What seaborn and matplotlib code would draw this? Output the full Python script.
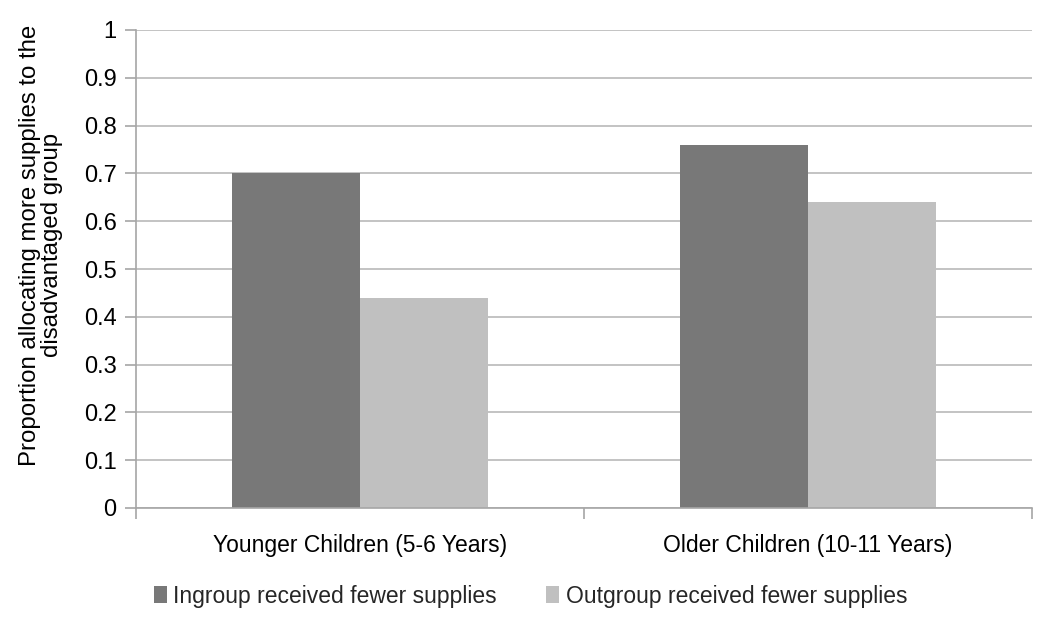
import matplotlib
matplotlib.use("Agg")
import matplotlib.pyplot as plt
import seaborn as sns
import pandas as pd
from matplotlib.ticker import FixedLocator

categories = ["Younger Children (5-6 Years)", "Older Children (10-11 Years)"]
series_names = ["Ingroup received fewer supplies", "Outgroup received fewer supplies"]
ingroup_values = [0.70, 0.76]
outgroup_values = [0.44, 0.64]
y_ticks = [0, 0.1, 0.2, 0.3, 0.4, 0.5, 0.6, 0.7, 0.8, 0.9, 1]
y_tick_labels = ["0", "0.1", "0.2", "0.3", "0.4", "0.5", "0.6", "0.7", "0.8", "0.9", "1"]

df = pd.DataFrame({
    "category": categories * 2,
    "series": [series_names[0]] * 2 + [series_names[1]] * 2,
    "value": ingroup_values + outgroup_values,
})

sns.set_theme(style="white")
plt.rcParams["font.family"] = ["Liberation Sans", "DejaVu Sans"]

FS = 16.5
fig = plt.figure(figsize=(10.5, 6.22), dpi=100)
ax = fig.add_axes([136 / 1050, 1 - 508 / 622, (1032 - 136) / 1050, (508 - 30) / 622])

palette = {series_names[0]: "#787878", series_names[1]: "#C0C0C0"}
sns.barplot(data=df, x="category", y="value", hue="series", order=categories,
            hue_order=series_names, palette=palette, width=0.572, ax=ax,
            saturation=1, legend=True, edgecolor="none", linewidth=0)

ax.set_ylim(0, 1)
ax.set_xlim(-0.5, 1.5)
ax.set_yticks(y_ticks)
ax.set_yticklabels(y_tick_labels)
ax.yaxis.grid(True, color="#BEBEBE", linewidth=1.3)
ax.set_axisbelow(True)
for s in ["top", "right"]:
    ax.spines[s].set_visible(False)
for s in ["left", "bottom"]:
    ax.spines[s].set_color("#A6A6A6")
    ax.spines[s].set_linewidth(1.2)

ax.tick_params(axis="y", which="major", left=True, length=8, width=1.2, color="#A6A6A6",
               labelsize=FS + 0.5, pad=6, labelcolor="black")
ax.tick_params(axis="x", which="major", bottom=False, labelsize=FS, pad=13, labelcolor="black")
ax.xaxis.set_minor_locator(FixedLocator([-0.5, 0.5, 1.5]))
ax.tick_params(axis="x", which="minor", bottom=True, length=8, width=1.2, color="#A6A6A6")

ax.set_xlabel("")
ax.set_ylabel("Proportion allocating more supplies to the\ndisadvantaged group",
              fontsize=FS + 0.8, color="black", linespacing=1.0)
ax.yaxis.set_label_coords(-0.082, 0.55)

handles, labels = ax.get_legend_handles_labels()
ax.get_legend().remove()
fig.legend(handles, labels, loc="center left", bbox_to_anchor=(154 / 1050, 1 - 596 / 622),
           ncol=2, frameon=False, fontsize=FS, handlelength=0.55, handleheight=0.8,
           handletextpad=0.3, columnspacing=2.15, borderaxespad=0, borderpad=0)

fig.savefig("out.png", dpi=100)
